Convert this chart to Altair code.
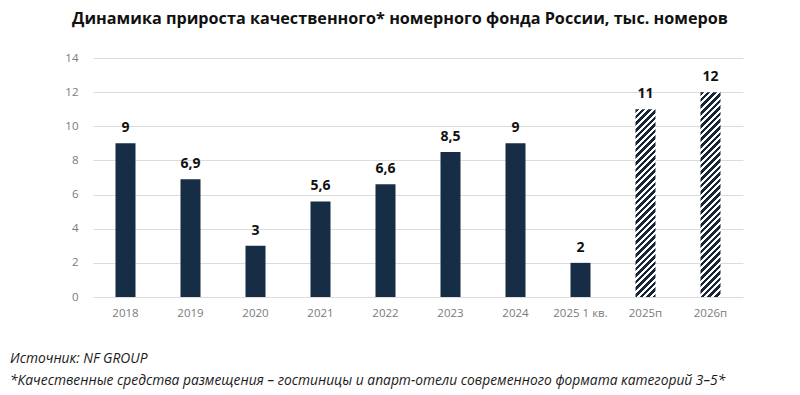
import altair as alt
import pandas as pd

categories = ["2018", "2019", "2020", "2021", "2022", "2023", "2024", "2025 1 кв.", "2025п", "2026п"]
values = [9, 6.9, 3, 5.6, 6.6, 8.5, 9, 2, 11, 12]
labels = ["9", "6,9", "3", "5,6", "6,6", "8,5", "9", "2", "11", "12"]
forecast = [False, False, False, False, False, False, False, False, True, True]
y_ticks = [0, 2, 4, 6, 8, 10, 12, 14]

title_text = "Динамика прироста качественного* номерного фонда России, тыс. номеров"
note1 = "Источник: NF GROUP"
note2 = "*Качественные средства размещения – гостиницы и апарт-отели современного формата категорий 3–5*"

df = pd.DataFrame({"cat": categories, "val": values, "lab": labels, "fc": forecast})

W_PLOT, H_PLOT = 650, 239
Y_MAX = 14
BAR_W = 20
NAVY = "#172d46"
HATCH_DARK = "#172536"

x_enc = alt.X("cat:N", sort=categories, title=None,
              scale=alt.Scale(paddingInner=0, paddingOuter=0),
              axis=alt.Axis(labelAngle=0, ticks=False, domain=False, grid=False,
                            labelColor="#7a7a7a", labelFontSize=11.5, labelFont="Open Sans",
                            labelPadding=10))
y_enc = alt.Y("val:Q", title=None,
              scale=alt.Scale(domain=[0, Y_MAX], nice=False),
              axis=alt.Axis(values=y_ticks, ticks=False, domain=False,
                            labelColor="#7a7a7a", labelFontSize=11.5, labelFont="Open Sans",
                            labelPadding=15, gridColor="#dcdcdc", gridWidth=1))

base = alt.Chart(df)

solid = base.transform_filter("!datum.fc").mark_bar(size=BAR_W, color=NAVY).encode(x=x_enc, y=y_enc)


def hatch_gradient(v, period=6.6, dark_frac=0.55):
    H = v * H_PLOT / Y_MAX
    W = BAR_W
    S = W + H
    a = W * S / (W * W + H * H)
    b = H * S / (W * W + H * H)
    stops = []
    pos = 0.0
    while pos < S:
        d0 = pos / S
        d1 = min((pos + period * dark_frac) / S, 1.0)
        w1 = min((pos + period) / S, 1.0)
        stops += [
            alt.GradientStop(color=HATCH_DARK, offset=d0),
            alt.GradientStop(color=HATCH_DARK, offset=d1),
            alt.GradientStop(color="#ffffff", offset=d1),
            alt.GradientStop(color="#ffffff", offset=w1),
        ]
        pos += period
    return alt.Gradient(gradient="linear", stops=stops, x1=0, y1=0, x2=a, y2=b)


hatched_layers = []
for c, v, f in zip(categories, values, forecast):
    if f:
        hatched_layers.append(
            base.transform_filter(alt.datum.cat == c)
            .mark_bar(size=BAR_W, color=hatch_gradient(v))
            .encode(x=x_enc, y=y_enc)
        )

text = base.mark_text(dy=-8, baseline="bottom", fontSize=14, fontWeight="bold",
                      font="Open Sans", color="#111111").encode(x=x_enc, y=y_enc, text="lab:N")

ann = pd.DataFrame({"t": [title_text]})
title = alt.Chart(ann).mark_text(font="Open Sans", fontWeight="bold", fontSize=16.2,
                                 color="#111111", align="center", baseline="alphabetic").encode(
    x=alt.value(307), y=alt.value(-34), text="t:N")

n1 = alt.Chart(pd.DataFrame({"t": [note1]})).mark_text(
    font="Open Sans", fontStyle="italic", fontSize=13.8, color="#1a1a1a",
    align="left", baseline="alphabetic").encode(x=alt.value(-83), y=alt.value(305), text="t:N")
n2 = alt.Chart(pd.DataFrame({"t": [note2]})).mark_text(
    font="Open Sans", fontStyle="italic", fontSize=13.8, color="#1a1a1a",
    align="left", baseline="alphabetic").encode(x=alt.value(-83), y=alt.value(327), text="t:N")

chart = alt.layer(solid, *hatched_layers, text, title, n1, n2).properties(
    width=W_PLOT, height=H_PLOT,
    background="white",
    autosize=alt.AutoSizeParams(type="none"),
    padding={"left": 85, "top": 50, "right": 49, "bottom": 95},
).configure_view(
    strokeWidth=0, stroke="transparent"
).configure_axis(
    domain=False, ticks=False
)

chart.save("out.html", embed_options={"renderer": "svg", "actions": False})
